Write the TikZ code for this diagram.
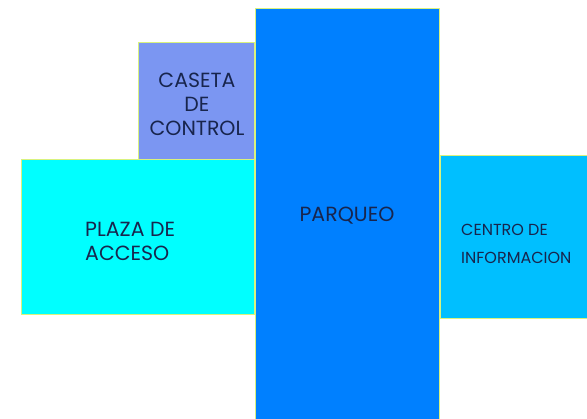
\documentclass[tikz,border=0pt]{standalone}
\usepackage{fontspec}
\setmainfont{Poppins}
\usetikzlibrary{positioning}
\definecolor{casetafill}{HTML}{7B96F2}
\definecolor{plazafill}{HTML}{00FFFF}
\definecolor{parqueofill}{HTML}{0080FF}
\definecolor{centrofill}{HTML}{00BFFF}
\definecolor{zoneedge}{HTML}{D9F27E}
\definecolor{zonetext}{HTML}{18254D}
\begin{document}
\begin{tikzpicture}[
        x=1pt, y=-1pt,
        zone/.style={
            draw=zoneedge,
            line width=1pt,
            anchor=north west,
            inner sep=0pt
        },
        zonelabel/.style={
            text=zonetext,
            font=\fontsize{20.5}{24}\selectfont,
            inner sep=0pt
        }
    ]
        \useasboundingbox (0,0) rectangle (587,419);
        \clip (0,0) rectangle (587,419);
        \node[zone, fill=casetafill, minimum width=116pt, minimum height=117pt] (caseta) at (138,42) {};
        \node[zone, fill=plazafill, minimum width=233pt, minimum height=155pt] (plaza) at (21,159) {};
        \node[zone, fill=parqueofill, minimum width=184pt, minimum height=420pt] (parqueo) at (255,8) {};
        \node[zone, fill=centrofill, minimum width=160pt, minimum height=163pt] (centro) at (440,155) {};

        \node[zonelabel, align=center] (casetatext) at (197,104) {CASETA\\DE\\CONTROL};
        \node[zonelabel, align=left, anchor=west] (plazatext) at (85,241) {PLAZA DE\\ACCESO};
        \node[zonelabel] (parqueotext) at (347,216) {PARQUEO};
        \node[zonelabel, align=left, anchor=west, font=\fontsize{16}{28}\selectfont] (centrotext) at (461,244) {CENTRO DE\\INFORMACION};
    \end{tikzpicture}
\end{document}
